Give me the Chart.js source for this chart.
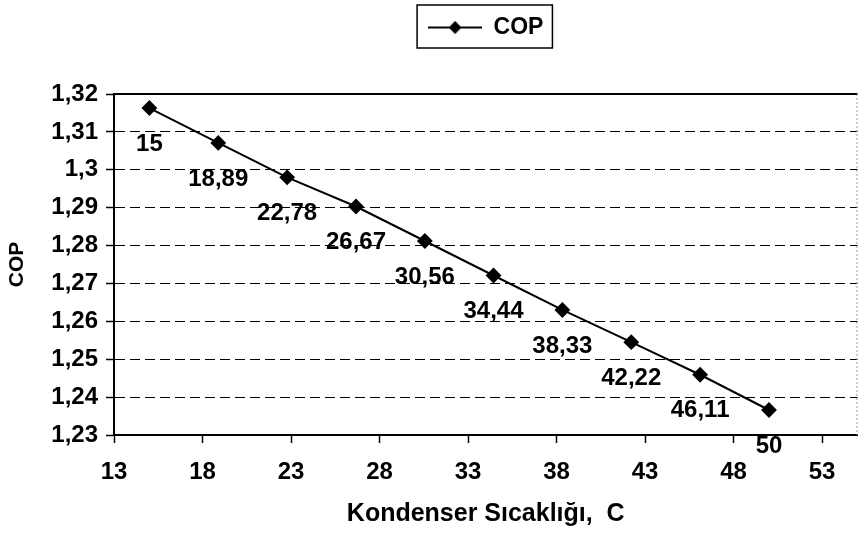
<!DOCTYPE html>
<html><head><meta charset="utf-8">
<script src="https://cdn.jsdelivr.net/npm/chart.js@4.4.0/dist/chart.umd.min.js"></script>
<style>html,body{margin:0;padding:0;background:#fff}</style>
</head><body>
<canvas id="c" width="866" height="540"></canvas>
<script>
const seriesName = 'COP';
const condenserTemps = [15, 18.89, 22.78, 26.67, 30.56, 34.44, 38.33, 42.22, 46.11, 50];
const copValues = [1.3163, 1.3071, 1.2980, 1.2903, 1.2812, 1.2721, 1.2630, 1.2545, 1.2459, 1.2366];
const xTicks = [13, 18, 23, 28, 33, 38, 43, 48, 53];
const yTicks = [1.23, 1.24, 1.25, 1.26, 1.27, 1.28, 1.29, 1.30, 1.31, 1.32];
const xTitle = 'Kondenser Sıcaklığı,  C';
const yTitle = 'COP';

const FONT = "'Liberation Sans', Arial, sans-serif";
const fmt = v => String(Number(v.toFixed(2))).replace('.', ',');

// legend symbol: line with diamond
const sym = document.createElement('canvas');
sym.width = 54; sym.height = 16;
(function(){
  const g = sym.getContext('2d');
  g.strokeStyle = '#000'; g.lineWidth = 2;
  g.beginPath(); g.moveTo(0, 8); g.lineTo(54, 8); g.stroke();
  g.fillStyle = '#000';
  g.beginPath(); g.moveTo(27, 1.5); g.lineTo(33.5, 8); g.lineTo(27, 14.5); g.lineTo(20.5, 8); g.closePath(); g.fill();
})();

const extras = {
  id: 'extras',
  afterDatasetsDraw(chart) {
    const ctx = chart.ctx;
    const meta = chart.getDatasetMeta(0);
    ctx.save();
    ctx.font = 'bold 24px ' + FONT;
    ctx.fillStyle = '#000';
    ctx.textAlign = 'center';
    ctx.textBaseline = 'middle';
    meta.data.forEach((el, i) => {
      ctx.fillText(fmt(condenserTemps[i]), el.x, el.y + 36);
    });
    ctx.restore();
  },
  afterDraw(chart) {
    const ctx = chart.ctx, a = chart.chartArea;
    ctx.save();
    ctx.strokeStyle = '#000'; ctx.lineWidth = 2;
    ctx.beginPath(); ctx.moveTo(a.left, a.top); ctx.lineTo(a.right, a.top); ctx.stroke();
    ctx.strokeStyle = '#999'; ctx.lineWidth = 1; ctx.setLineDash([2, 2]);
    ctx.beginPath(); ctx.moveTo(a.right - 0.5, a.top); ctx.lineTo(a.right - 0.5, a.bottom); ctx.stroke();
    ctx.setLineDash([]);
    const hb = chart.legend.legendHitBoxes[0];
    if (hb) {
      ctx.strokeStyle = '#000'; ctx.lineWidth = 1.5;
      ctx.strokeRect(hb.left - 11, hb.top - 11, hb.width + 20, hb.height + 20);
    }
    ctx.restore();
  }
};

new Chart(document.getElementById('c'), {
  type: 'line',
  data: {
    datasets: [{
      label: seriesName,
      data: condenserTemps.map((x, i) => ({x: x, y: copValues[i]})),
      borderColor: '#000',
      backgroundColor: '#000',
      borderWidth: 2,
      pointStyle: 'rectRot',
      pointRadius: 6.5,
      pointBackgroundColor: '#000',
      pointBorderColor: '#000',
      tension: 0,
      fill: false
    }]
  },
  options: {
    responsive: false,
    animation: false,
    devicePixelRatio: 1,
    layout: { padding: { top: 0, left: 0, right: 1, bottom: 0 } },
    plugins: {
      legend: {
        display: true,
        position: 'top',
        fullSize: false,
        weight: 3000,
        labels: {
          usePointStyle: true,
          pointStyleWidth: 54,
          padding: 16,
          color: '#000',
          font: { family: FONT, size: 23, weight: 'bold' },
          generateLabels: () => [{
            text: seriesName, pointStyle: sym, fillStyle: '#000', strokeStyle: '#000',
            lineWidth: 0, hidden: false, datasetIndex: 0, fontColor: '#000'
          }]
        }
      },
      title: {
        display: true, text: '', fullSize: false,
        font: { size: 10 }, padding: { top: 16, bottom: 17 }
      },
      tooltip: { enabled: false }
    },
    scales: {
      x: {
        type: 'linear',
        min: 13, max: 55,
        afterBuildTicks: s => { s.ticks = xTicks.map(v => ({value: v})); },
        afterFit: s => { s.height = 105; },
        ticks: {
          color: '#000', padding: 15, maxRotation: 0, autoSkip: false,
          font: { family: FONT, size: 24, weight: 'bold' },
          callback: v => fmt(v)
        },
        grid: { display: true, drawOnChartArea: false, tickLength: 8, tickColor: '#000', tickWidth: 1.5 },
        border: { display: true, color: '#000', width: 2 },
        title: {
          display: true, text: xTitle, color: '#000',
          font: { family: FONT, size: 25, weight: 'bold' },
          padding: { top: 0, bottom: 11 }
        }
      },
      y: {
        type: 'linear',
        min: 1.23, max: 1.32,
        afterBuildTicks: s => { s.ticks = yTicks.map(v => ({value: v})); },
        afterFit: s => { s.width = 114; },
        ticks: {
          color: '#000', padding: 8, autoSkip: false,
          font: { family: FONT, size: 24, weight: 'bold' },
          callback: v => fmt(v)
        },
        grid: { display: true, color: '#000', lineWidth: 1, tickLength: 8, tickColor: '#000', tickWidth: 1.5 },
        border: { display: true, color: '#000', width: 2, dash: [10, 5] },
        title: {
          display: true, text: yTitle, color: '#000',
          font: { family: FONT, size: 21, weight: 'bold' },
          padding: { top: 5, bottom: 0 }
        }
      }
    }
  },
  plugins: [extras]
});
</script>
</body></html>
